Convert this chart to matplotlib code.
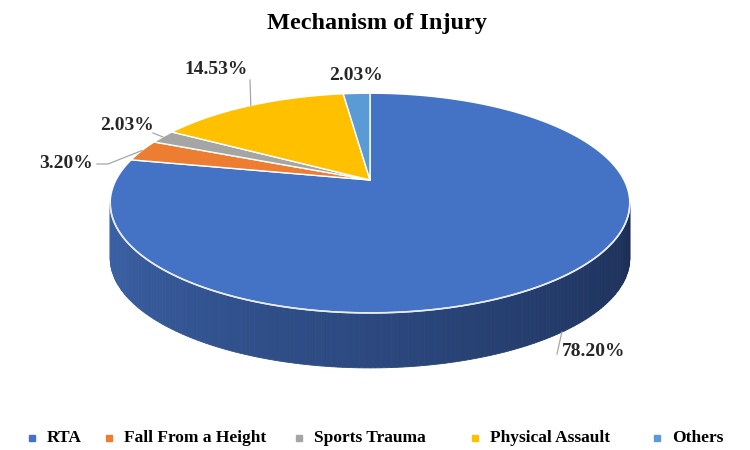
import numpy as np
import matplotlib
matplotlib.use("Agg")
import matplotlib.pyplot as plt
from matplotlib.patches import Polygon
from matplotlib.colors import to_rgb

# ----- Data -----

categories = ["RTA", "Fall From a Height", "Sports Trauma", "Physical Assault", "Others"]
values = [78.20, 3.20, 2.03, 14.53, 2.03]
pct_labels = ["78.20%", "3.20%", "2.03%", "14.53%", "2.03%"]
colors = ["#4472C4", "#ED7D31", "#A5A5A5", "#FFC000", "#5B9BD5"]

# ----- Layout (pixel space, y down) -----

W, H = 750, 450
cx, cy = 370, 180      # projected centre of the top face
a, b = 254, 105        # radii before perspective
k = 0.21               # perspective strength (far side smaller)
depth = 55             # thickness of the pie

# label text (x, y, ha) and where its leader line bends (None = no line)
label_layout = [
    (562, 352, "left", (557, 354)),
    (93, 163, "right", (108, 164)),
    (127, 126, "center", (153, 133)),
    (216, 70, "center", (250, 80)),
    (356, 76, "center", None),
]
legend_marker_x = [32, 109, 299, 475, 657]
legend_y = 438

plt.rcParams["font.family"] = ["Liberation Serif", "DejaVu Serif"]

fig = plt.figure(figsize=(W / 100, H / 100), dpi=100)
ax = fig.add_axes([0, 0, 1, 1])
ax.set_xlim(0, W)
ax.set_ylim(H, 0)
ax.axis("off")


def proj(t, dy=0.0):
    u, v = np.cos(t), np.sin(t)
    w = 1 + k * v
    return cx + a * u / w, cy - b * v / w + dy


# angles: start at 12 o'clock, go clockwise
total = sum(values)
bounds = 90 - np.concatenate([[0], np.cumsum(values)]) / total * 360
mids = (bounds[:-1] + bounds[1:]) / 2

# ----- Side wall (front part between the silhouette points) -----
side_light = np.array(to_rgb("#3C63A9"))
side_dark = np.array(to_rgb("#1B2D54"))
t_left, t_right = np.pi + np.arcsin(k), 2 * np.pi - np.arcsin(k)
n = 160
ts = np.linspace(t_left, t_right, n + 1)
for i in range(n):
    t = np.linspace(ts[i], ts[i + 1], 4)
    x, y = proj(t)
    xb, yb = proj(t[::-1], depth)
    frac = i / n
    c = side_light * (1 - frac) + side_dark * frac
    ax.add_patch(Polygon(np.column_stack([np.r_[x, xb], np.r_[y, yb]]),
                         closed=True, facecolor=c, edgecolor=c, lw=0.6))

# ----- Top face -----
for i, col in enumerate(colors):
    t0, t1 = np.radians(bounds[i + 1]), np.radians(bounds[i])
    t = np.linspace(t0, t1, 200)
    x, y = proj(t)
    pts = np.column_stack([np.r_[cx, x], np.r_[cy, y]])
    ax.add_patch(Polygon(pts, closed=True, facecolor=col, edgecolor="white",
                         lw=1.0, joinstyle="round"))

# light rim between top face and side
t = np.linspace(t_left, t_right, 200)
ax.plot(*proj(t), color="#E8ECF4", lw=1.2)

# ----- Data labels -----
for i, (lx, ly, ha, bend) in enumerate(label_layout):
    if bend is not None:
        t = np.radians(mids[i])
        # slices on the front are tied to the bottom edge of the wall
        px, py = proj(t, depth if np.sin(t) < 0 else 0)
        if i == 1:
            ax.plot([lx + 4, bend[0], px], [ly + 1, bend[1], py], color="#A6A6A6", lw=0.9)
        else:
            ax.plot([bend[0], px], [bend[1], py], color="#A6A6A6", lw=0.9)
    ax.text(lx, ly, pct_labels[i], ha=ha, va="center",
            fontsize=14, fontweight="bold", color="#262626")

# ----- Title -----
ax.text(377, 23, "Mechanism of Injury", ha="center", va="center",
        fontsize=17.5, fontweight="bold", color="black")

# ----- Legend (placed like the Excel legend) -----
for mx, name, col in zip(legend_marker_x, categories, colors):
    ax.plot([mx], [legend_y], marker="s", ls="", color=col, markersize=4)
    ax.text(mx + 15, legend_y, name, ha="left", va="center",
            fontsize=12.5, fontweight="bold", color="black")

fig.savefig("out.png", dpi=100)
